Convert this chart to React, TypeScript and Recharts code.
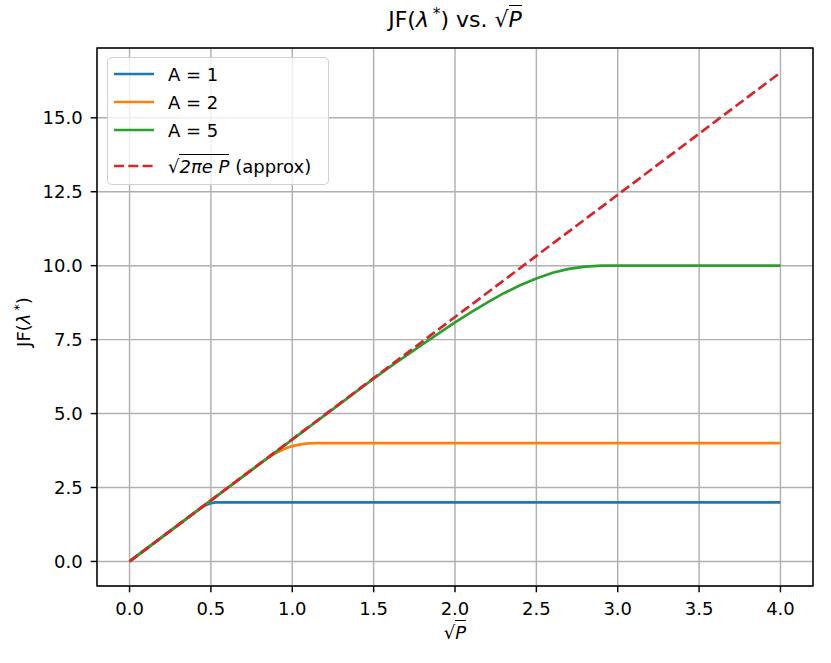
import React from "react";
import { LineChart, Line, XAxis, YAxis, CartesianGrid, ReferenceArea } from "recharts";

// sqrt(P) on the x axis, JF(lambda*) on the y axis
const xTicks = [0, 0.5, 1, 1.5, 2, 2.5, 3, 3.5, 4];
const yTicks = [0, 2.5, 5, 7.5, 10, 12.5, 15];

const a1X = [0, 0.4, 0.44, 0.47, 0.5, 0.53, 0.56, 0.6, 4.0];
const a1Y = [0, 1.65, 1.81, 1.91, 1.97, 1.995, 2.0, 2.0, 2.0];

const a2X = [0, 0.8, 0.85, 0.9, 0.95, 1.0, 1.05, 1.1, 1.15, 4.0];
const a2Y = [0, 3.31, 3.5, 3.67, 3.8, 3.9, 3.96, 3.99, 4.0, 4.0];

const a5X = [0, 1.5, 1.6, 1.7, 1.8, 1.9, 2.0, 2.1, 2.2, 2.3, 2.4, 2.5, 2.6, 2.7, 2.8, 2.9, 4.0];
const a5Y = [0, 6.18, 6.58, 6.96, 7.34, 7.71, 8.08, 8.43, 8.76, 9.07, 9.34, 9.57, 9.76, 9.89, 9.97, 10.0, 10.0];

const approxX = [0, 4.0];
const approxY = [0, 16.53];

const zip = (xs: number[], ys: number[]) => xs.map((x, i) => ({ x, y: ys[i] }));

const FONT = "'DejaVu Sans', sans-serif";
const X_DOMAIN: [number, number] = [-0.2, 4.2];
const Y_DOMAIN: [number, number] = [-0.83, 17.36];
const DASH = "10 4.3";

function Sqrt({ children }: { children: React.ReactNode }) {
  return (
    <span style={{ whiteSpace: "nowrap" }}>
      <span>√</span>
      <span style={{ borderTop: "1.3px solid #000", paddingTop: 1, fontStyle: "italic" }}>{children}</span>
    </span>
  );
}

function Lam() {
  return (
    <>
      JF(<i>λ</i>
      <span style={{ fontSize: "0.7em", position: "relative", top: "-0.55em", marginLeft: "0.25em" }}>*</span>)
    </>
  );
}

const series = [
  { key: "a1", label: "A = 1", color: "#1f77b4", data: zip(a1X, a1Y), dash: undefined as string | undefined },
  { key: "a2", label: "A = 2", color: "#ff7f0e", data: zip(a2X, a2Y), dash: undefined },
  { key: "a5", label: "A = 5", color: "#2ca02c", data: zip(a5X, a5Y), dash: undefined },
  { key: "approx", label: "approx", color: "#d62728", data: zip(approxX, approxY), dash: DASH },
];

const rowCenters = [16, 44, 72, 108];

function LegendBox() {
  return (
    <div
      style={{
        position: "absolute",
        left: 107,
        top: 57,
        width: 222,
        height: 128,
        boxSizing: "border-box",
        border: "1.4px solid rgba(204,204,204,0.9)",
        borderRadius: 5,
        background: "rgba(255,255,255,0.8)",
        fontSize: 18,
        color: "#000",
      }}
    >
      {series.map((s, i) => (
        <div key={s.key} style={{ position: "absolute", left: 0, top: rowCenters[i] - 14, height: 28, display: "flex", alignItems: "center" }}>
          <svg width={60} height={28} style={{ display: "block" }}>
            <line x1={6} x2={46} y1={14} y2={14} stroke={s.color} strokeWidth={2.7} strokeDasharray={s.dash} />
          </svg>
          {s.key === "approx" ? (
            <span>
              <Sqrt>2πe P</Sqrt> (approx)
            </span>
          ) : (
            <span>{s.label}</span>
          )}
        </div>
      ))}
    </div>
  );
}

function XTick({ x, y, payload }: any) {
  return (
    <text x={x} y={y} dy={14} textAnchor="middle" fontSize={18} fontFamily={FONT} fill="#000">
      {Number(payload.value).toFixed(1)}
    </text>
  );
}

function YTick({ x, y, payload }: any) {
  return (
    <text x={x - 2} y={y} dy={6.5} textAnchor="end" fontSize={18} fontFamily={FONT} fill="#000">
      {Number(payload.value).toFixed(1)}
    </text>
  );
}

export default function App() {
  return (
    <div style={{ position: "absolute", left: 0, top: 0, width: 831, height: 663, background: "#fff", fontFamily: FONT }}>
      <LineChart width={831} height={663} margin={{ top: 48, right: 18, bottom: 37, left: 37 }}>
        <CartesianGrid stroke="#b0b0b0" strokeWidth={1.44} />
        <XAxis
          dataKey="x"
          type="number"
          domain={X_DOMAIN}
          ticks={xTicks}
          interval={0}
          allowDataOverflow
          height={40}
          axisLine={false}
          tickLine={{ stroke: "#000", strokeWidth: 1.44 }}
          tickSize={6.3}
          tickMargin={9}
          tick={<XTick />}
        />
        <YAxis
          type="number"
          domain={Y_DOMAIN}
          ticks={yTicks}
          interval={0}
          allowDataOverflow
          width={60}
          axisLine={false}
          tickLine={{ stroke: "#000", strokeWidth: 1.44 }}
          tickSize={6.3}
          tickMargin={6}
          tick={<YTick />}
        />
        {series.map((s) => (
          <Line
            key={s.key}
            data={s.data}
            dataKey="y"
            name={s.key}
            type="linear"
            stroke={s.color}
            strokeWidth={2.7}
            strokeDasharray={s.dash}
            dot={false}
            isAnimationActive={false}
          />
        ))}
        <ReferenceArea x1={X_DOMAIN[0]} x2={X_DOMAIN[1]} y1={Y_DOMAIN[0]} y2={Y_DOMAIN[1]} fill="none" stroke="#000" strokeWidth={1.44} ifOverflow="visible" />
      </LineChart>
      <div style={{ position: "absolute", left: 255, width: 400, top: 7, textAlign: "center", fontSize: 22, color: "#000" }}>
        <Lam /> vs. <Sqrt>P</Sqrt>
      </div>
      <div style={{ position: "absolute", left: 355, width: 200, top: 622, textAlign: "center", fontSize: 18 }}>
        <Sqrt>P</Sqrt>
      </div>
      <div
        style={{
          position: "absolute",
          left: 23,
          top: 322,
          transform: "translate(-50%, -50%) rotate(-90deg)",
          fontSize: 18,
          whiteSpace: "nowrap",
        }}
      >
        <Lam />
      </div>
      <LegendBox />
    </div>
  );
}
